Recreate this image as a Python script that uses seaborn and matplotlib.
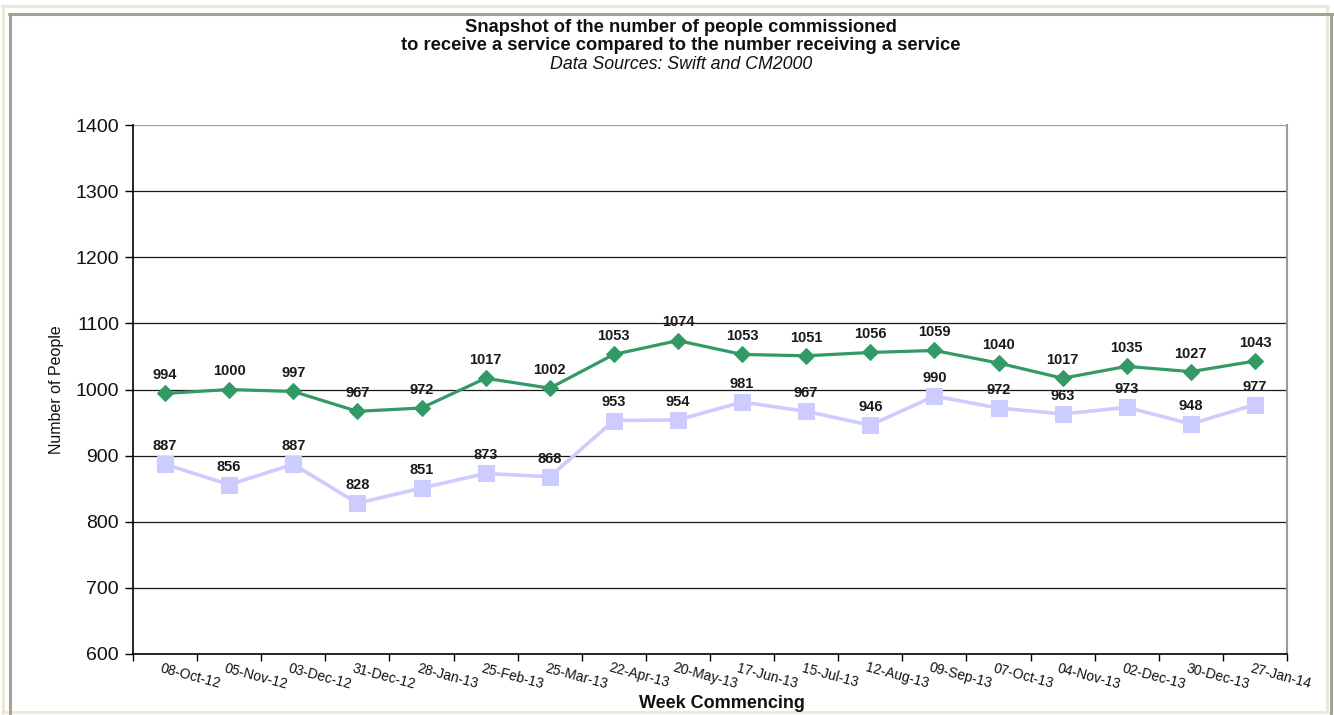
import matplotlib
matplotlib.use("Agg")
import matplotlib.pyplot as plt
from matplotlib.lines import Line2D
import numpy as np
import pandas as pd
import seaborn as sns

# Week commencing dates (category axis)
weeks = ["08-Oct-12", "05-Nov-12", "03-Dec-12", "31-Dec-12", "28-Jan-13", "25-Feb-13",
         "25-Mar-13", "22-Apr-13", "20-May-13", "17-Jun-13", "15-Jul-13", "12-Aug-13",
         "09-Sep-13", "07-Oct-13", "04-Nov-13", "02-Dec-13", "30-Dec-13", "27-Jan-14"]

# Number of people commissioned to receive a service
commissioned = [994, 1000, 997, 967, 972, 1017, 1002, 1053, 1074, 1053, 1051, 1056,
                1059, 1040, 1017, 1035, 1027, 1043]

# Number of people receiving a service
receiving = [887, 856, 887, 828, 851, 873, 868, 953, 954, 981, 967, 946,
             990, 972, 963, 973, 948, 977]

y_ticks = [600, 700, 800, 900, 1000, 1100, 1200, 1300, 1400]

sns.set_theme(style="white")
plt.rcParams["font.family"] = ["Liberation Sans", "DejaVu Sans"]

W, H = 1334, 715
fig = plt.figure(figsize=(W / 100, H / 100), dpi=100)
fig.patch.set_facecolor("white")

# Bevelled page frame
def hline(y, x0, x1, color, lw):
    fig.add_artist(Line2D([x0 / W, x1 / W], [1 - y / H, 1 - y / H], color=color, lw=lw,
                          transform=fig.transFigure))

def vline(x, y0, y1, color, lw):
    fig.add_artist(Line2D([x / W, x / W], [1 - y0 / H, 1 - y1 / H], color=color, lw=lw,
                          transform=fig.transFigure))

beige = "#ECE9D8"
frame_gray = "#A5A294"
hline(6, 2, 1328, beige, 2.2)
vline(2.5, 6, 715, beige, 2.2)
vline(1327, 6, 712, beige, 2.2)
hline(712, 2, 1328, beige, 2.2)
hline(14, 9, 1333, frame_gray, 2.2)
vline(10, 14, 715, frame_gray, 2.2)
vline(1331, 14, 715, frame_gray, 2.2)

ax = fig.add_axes([133 / W, 1 - 654 / H, (1287 - 133) / W, (654 - 125) / H])
ax.set_facecolor("white")

pos = np.arange(len(weeks))
df = pd.DataFrame({"pos": pos, "commissioned": commissioned, "receiving": receiving})

# Horizontal gridlines
for v in y_ticks[1:]:
    ax.axhline(v, color="#9A9A9A" if v == y_ticks[-1] else "#1A1A1A", lw=0.9, zorder=0.5)

sns.lineplot(data=df, x="pos", y="receiving", ax=ax, color="#CCCCFF", lw=2.6,
             marker="s", markersize=11, markeredgecolor="#CCCCFF", zorder=3)
sns.lineplot(data=df, x="pos", y="commissioned", ax=ax, color="#339966", lw=2.3,
             marker="D", markersize=8, markeredgecolor="#339966", zorder=4)

# Value labels above each point
for series in (commissioned, receiving):
    for x, v in zip(pos, series):
        ax.annotate(str(v), (x, v), xytext=(0, 8), textcoords="offset points",
                    ha="center", va="bottom", fontsize=10.5, fontweight="bold",
                    color="#1A1A1A", zorder=5)

ax.set_xlim(-0.5, len(weeks) - 0.5)
ax.set_ylim(600, 1400)
ax.set_yticks(y_ticks)
ax.set_yticklabels([str(v) for v in y_ticks], fontsize=14, color="#111111")

# Tick marks sit between categories; labels hang from category centres
ax.set_xticks(np.arange(len(weeks) + 1) - 0.5)
ax.set_xticklabels([])
ax.tick_params(axis="x", which="major", direction="out", length=5, width=1, color="black",
               bottom=True)
ax.tick_params(axis="y", which="major", direction="out", length=6, width=1, color="black",
               left=True, pad=4)
for x, lab in zip(pos, weeks):
    ax.annotate(lab, (x, 600), xytext=(-2, -5), textcoords="offset points",
                ha="left", va="top", rotation=-15, rotation_mode="anchor",
                fontsize=10, color="#111111", annotation_clip=False)

for side in ["left", "bottom"]:
    ax.spines[side].set_color("black")
    ax.spines[side].set_linewidth(1.2)
ax.spines["top"].set_visible(False)
ax.spines["right"].set_color("#9A9A9A")
ax.spines["right"].set_linewidth(1.5)

ax.set_xlabel("")
ax.set_ylabel("")
fig.text(57 / W, 1 - 390 / H, "Number of People", rotation=90, ha="center", va="center",
         fontsize=11.5, color="#111111")
fig.text(722 / W, 1 - 703 / H, "Week Commencing", ha="center", va="center",
         fontsize=13, fontweight="bold", color="#111111")

fig.text(681 / W, 1 - 27 / H, "Snapshot of the number of people commissioned",
         ha="center", va="center", fontsize=13.2, fontweight="bold", color="#111111")
fig.text(681 / W, 1 - 45.5 / H, "to receive a service compared to the number receiving a service",
         ha="center", va="center", fontsize=13.2, fontweight="bold", color="#111111")
fig.text(681 / W, 1 - 64.5 / H, "Data Sources: Swift and CM2000",
         ha="center", va="center", fontsize=12.8, fontstyle="italic", color="#111111")

fig.savefig("out.png", dpi=100, facecolor=fig.get_facecolor())
